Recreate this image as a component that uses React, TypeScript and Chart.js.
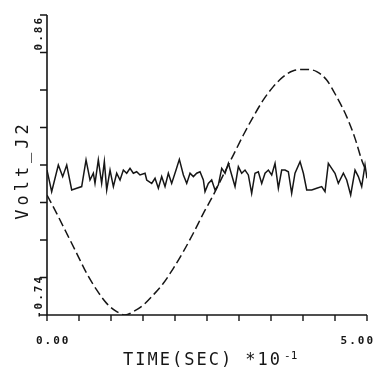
import { useEffect, useRef } from 'react';
import { Chart, registerables } from 'chart.js';

Chart.register(...registerables);

// ---- data ----
const X_MIN = 0;
const X_MAX = 5;
const Y_MIN = -0.74;
const Y_MAX = 0.86;

const xTickValues = [0, 0.5, 1, 1.5, 2, 2.5, 3, 3.5, 4, 4.5, 5];
const yTickValues = [-0.74, -0.54, -0.34, -0.14, 0.06, 0.26, 0.46, 0.66, 0.86];
const xTickLabels = ['0.00', '5.00'];
const yTickLabels = ['-0.74', '0.86'];
const xTitle = 'TIME(SEC) *10';
const xTitleExp = '-1';
const yTitle = 'Volt_J2';

// noisy signal (solid)
const noiseTime = [
  0.0, 0.073, 0.177, 0.245, 0.308, 0.386, 0.464, 0.542, 0.61, 0.672, 0.724, 0.75, 0.802, 0.854, 0.896,
  0.933, 0.985, 1.037, 1.089, 1.141, 1.193, 1.245, 1.297, 1.349, 1.401, 1.453, 1.532, 1.558, 1.636,
  1.688, 1.74, 1.792, 1.844, 1.896, 1.948, 2.016, 2.068, 2.131, 2.183, 2.235, 2.287, 2.339, 2.391,
  2.443, 2.469, 2.521, 2.573, 2.625, 2.677, 2.73, 2.782, 2.834, 2.886, 2.938, 2.99, 3.042, 3.094,
  3.146, 3.198, 3.25, 3.302, 3.355, 3.407, 3.459, 3.511, 3.563, 3.615, 3.667, 3.719, 3.771, 3.823,
  3.875, 3.954, 4.006, 4.058, 4.136, 4.214, 4.292, 4.344, 4.396, 4.448, 4.5, 4.552, 4.631, 4.683,
  4.745, 4.813, 4.865, 4.917, 4.969, 5.0,
];
const noiseVolt = [
  0.033, -0.082, 0.06, -0.002, 0.06, -0.073, -0.064, -0.055, 0.087, -0.02, 0.016, -0.038, 0.087, -0.038, 0.078,
  -0.073, 0.033, -0.055, 0.016, -0.02, 0.033, 0.016, 0.042, 0.016, 0.024, 0.007, 0.016, -0.02, -0.038,
  -0.011, -0.064, -0.002, -0.055, 0.016, -0.038, 0.033, 0.09, 0.007, -0.038, 0.016, -0.002, 0.016, 0.024,
  -0.02, -0.082, -0.038, -0.02, -0.073, -0.047, 0.042, 0.016, 0.069, 0.007, -0.055, 0.051, 0.016, 0.033,
  0.007, -0.091, 0.016, 0.024, -0.038, 0.016, 0.033, 0.007, 0.069, -0.064, 0.033, 0.033, 0.024, -0.091,
  0.016, 0.078, 0.016, -0.073, -0.073, -0.064, -0.055, -0.082, 0.069, 0.042, 0.016, -0.038, 0.016, -0.02,
  -0.1, 0.033, -0.002, -0.055, 0.06, -0.011,
];

// slow wave (dashed)
const waveTime = [
  0.0, 0.151, 0.307, 0.464, 0.62, 0.776, 0.932, 1.089, 1.219, 1.349, 1.505, 1.661, 1.818, 1.974, 2.13,
  2.286, 2.443, 2.599, 2.755, 2.911, 3.068, 3.224, 3.38, 3.536, 3.693, 3.849, 4.057, 4.214, 4.37, 4.526,
  4.682, 4.813, 4.917, 4.969,
];
const waveVolt = [
  -0.1, -0.198, -0.304, -0.411, -0.518, -0.606, -0.678, -0.722, -0.74, -0.722, -0.687, -0.633, -0.571, -0.491, -0.402,
  -0.304, -0.198, -0.1, 0.007, 0.113, 0.22, 0.318, 0.407, 0.478, 0.531, 0.563, 0.57, 0.558, 0.513, 0.424,
  0.318, 0.202, 0.087, 0.042,
];

const INK = '#161616';
const MONO = '"DejaVu Sans Mono", "Liberation Mono", monospace';

const plotterAxes = {
  id: 'plotterAxes',
  afterDraw(chart: any) {
    const ctx = chart.ctx as CanvasRenderingContext2D;
    const xs = chart.scales.x;
    const ys = chart.scales.y;
    const x0 = xs.getPixelForValue(X_MIN);
    const x1 = xs.getPixelForValue(X_MAX);
    const y0 = ys.getPixelForValue(Y_MIN);
    const y1 = ys.getPixelForValue(Y_MAX);

    ctx.save();
    ctx.strokeStyle = INK;
    ctx.fillStyle = INK;
    ctx.lineWidth = 1.6;
    ctx.setLineDash([]);
    ctx.beginPath();
    ctx.moveTo(x0, y1);
    ctx.lineTo(x0, y0);
    ctx.lineTo(x1, y0);
    ctx.stroke();

    ctx.lineWidth = 1.4;
    ctx.beginPath();
    yTickValues.forEach((v) => {
      const p = ys.getPixelForValue(v);
      ctx.moveTo(x0 - 7, p);
      ctx.lineTo(x0, p);
    });
    xTickValues.forEach((v) => {
      const p = xs.getPixelForValue(v);
      ctx.moveTo(p, y0);
      ctx.lineTo(p, y0 + 6);
    });
    ctx.stroke();

    // x tick labels
    (ctx as any).letterSpacing = '2px';
    ctx.font = `bold 11px ${MONO}`;
    ctx.textBaseline = 'alphabetic';
    ctx.textAlign = 'left';
    ctx.fillText(xTickLabels[0], x0 - 11, y0 + 29);
    ctx.textAlign = 'right';
    ctx.fillText(xTickLabels[1], x1 + 8, y0 + 29);

    // y tick labels (rotated)
    ctx.save();
    ctx.translate(x0 - 5, y0 + 3);
    ctx.rotate(-Math.PI / 2);
    ctx.textAlign = 'left';
    ctx.fillText(yTickLabels[0], 0, 0);
    ctx.restore();
    ctx.save();
    ctx.translate(x0 - 5, y1 + 1);
    ctx.rotate(-Math.PI / 2);
    ctx.textAlign = 'right';
    ctx.fillText(yTickLabels[1], 0, 0);
    ctx.restore();

    // x title with exponent
    ctx.font = `17px ${MONO}`;
    (ctx as any).letterSpacing = '2px';
    ctx.textAlign = 'left';
    const tx = 123;
    ctx.fillText(xTitle, tx, y0 + 50);
    const w = ctx.measureText(xTitle).width;
    ctx.font = `11px ${MONO}`;
    (ctx as any).letterSpacing = '0px';
    ctx.fillText(xTitleExp, tx + w + 2, y0 + 44);

    // y title rotated
    ctx.font = `17px ${MONO}`;
    (ctx as any).letterSpacing = '4px';
    ctx.save();
    ctx.translate(28, (y0 + y1) / 2 + 5);
    ctx.rotate(-Math.PI / 2);
    ctx.textAlign = 'center';
    ctx.fillText(yTitle, 0, 0);
    ctx.restore();

    ctx.restore();
  },
};

export default function App() {
  const ref = useRef<HTMLCanvasElement | null>(null);

  useEffect(() => {
    if (!ref.current) return;
    const chart = new Chart(ref.current, {
      type: 'line',
      data: {
        datasets: [
          {
            label: 'noise',
            data: noiseTime.map((t, i) => ({ x: t, y: noiseVolt[i] })),
            borderColor: INK,
            borderWidth: 1.5,
            pointRadius: 0,
            tension: 0,
            fill: false,
          },
          {
            label: 'wave',
            data: waveTime.map((t, i) => ({ x: t, y: waveVolt[i] })),
            borderColor: INK,
            borderWidth: 1.5,
            borderDash: [9, 4],
            pointRadius: 0,
            cubicInterpolationMode: 'monotone',
            fill: false,
          },
        ],
      },
      options: {
        responsive: false,
        animation: false,
        devicePixelRatio: 1,
        layout: { padding: { left: 47, right: 22, top: 15, bottom: 59 } },
        plugins: { legend: { display: false }, tooltip: { enabled: false } },
        events: [],
        scales: {
          x: { type: 'linear', min: X_MIN, max: X_MAX, display: false },
          y: { type: 'linear', min: Y_MIN, max: Y_MAX, display: false },
        },
      },
      plugins: [plotterAxes],
    });
    return () => chart.destroy();
  }, []);

  return (
    <canvas
      ref={ref}
      width={389}
      height={374}
      style={{ position: 'absolute', left: 0, top: 0, width: 389, height: 374, background: '#fff' }}
    />
  );
}
